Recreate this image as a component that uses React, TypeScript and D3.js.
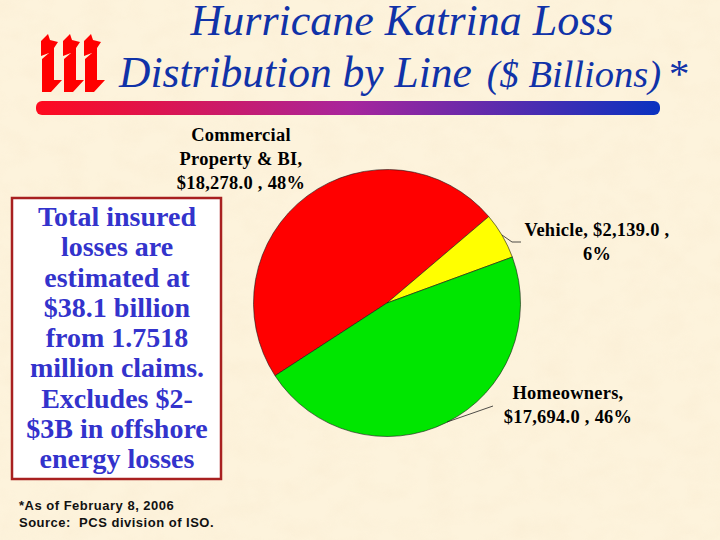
import React from "react";
import * as d3 from "d3";

const categories = ["Commercial Property & BI", "Vehicle", "Homeowners"];
const lossValues = [18278.0, 2139.0, 17694.0];
const shares = [48, 6, 46];
const sliceColors = ["#ff0000", "#ffff00", "#00e600"];
const noteLines = ["Total insured", "losses are", "estimated at", "$38.1 billion", "from 1.7518", "million claims.", "Excludes $2-", "$3B in offshore", "energy losses"];
const sourceLines = ["*As of February 8, 2006", "Source:  PCS division of ISO."];

const W = 720, H = 540;
const cx = 387, cy = 303, radius = 133.5;
const startDeg = 237;
const serif = "'Liberation Serif', serif";
const sans = "'Liberation Sans', sans-serif";
const money = (v: number) => "$" + d3.format(",.1f")(v);

const pie = d3.pie<number>().sort(null)
  .startAngle((startDeg * Math.PI) / 180)
  .endAngle(((startDeg + 360) * Math.PI) / 180);
const arc = d3.arc<d3.PieArcDatum<number>>().innerRadius(0).outerRadius(radius);
const arcs = pie(lossValues);

const labelLines = [
  { x: 241, ys: [141, 165, 189], lines: ["Commercial", "Property & BI,", `${money(lossValues[0])} , ${shares[0]}%`] },
  { x: 597, ys: [236, 260], lines: [`${categories[1]}, ${money(lossValues[1])} ,`, `${shares[1]}%`] },
  { x: 568, ys: [399, 423], lines: [`${categories[2]},`, `${money(lossValues[2])} , ${shares[2]}%`] },
];

const logoLetter = "M0 7 L7 0 L9 6 L17 8 L13 14 L13 46 L21 46 L10 58 L1 58 L1 25 L8 19 L0 22 Z";
const noteY = d3.scalePoint<string>().domain(noteLines.map((_, i) => String(i))).range([226, 468]);

export default function App() {
  return (
    <svg width={W} height={H} viewBox={`0 0 ${W} ${H}`} style={{ position: "absolute", left: 0, top: 0, display: "block" }}>
      <defs>
        <linearGradient id="bar" x1="0" x2="1" y1="0" y2="0">
          <stop offset="0" stopColor="#ff0a1e" />
          <stop offset="0.5" stopColor="#a8259c" />
          <stop offset="1" stopColor="#0a32c0" />
        </linearGradient>
        <filter id="paper" x="0" y="0" width="100%" height="100%">
          <feTurbulence type="fractalNoise" baseFrequency="0.035 0.05" numOctaves={3} seed={4} />
          <feColorMatrix type="matrix" values="0 0 0 0 0.93  0 0 0 0 0.80  0 0 0 0 0.60  0.9 0 0 0 -0.33" />
        </filter>
      </defs>
      <rect width={W} height={H} fill="#fdf3dc" />
      <rect width={W} height={H} filter="url(#paper)" opacity={0.55} />

      <g fill="#ff0000">
        {[41, 63, 84].map((x) => (
          <path key={x} d={logoLetter} transform={`translate(${x},34)`} />
        ))}
      </g>

      <g fill="#1032a8" fontFamily={serif} fontStyle="italic">
        <text x={402} y={35} fontSize={44} textAnchor="middle">Hurricane Katrina Loss</text>
        <text x={119} y={87} fontSize={43.5}>
          Distribution by Line <tspan fontSize={38.5} dx={4}>($ Billions)</tspan><tspan fontSize={41} dx={6}>*</tspan>
        </text>
      </g>
      <rect x={36} y={101} width={624} height={14} rx={6} fill="url(#bar)" />

      <g stroke="#1a1a1a" strokeWidth={0.6}>
        {arcs.map((d, i) => (
          <path key={categories[i]} d={arc(d) ?? ""} transform={`translate(${cx},${cy})`} fill={sliceColors[i]} />
        ))}
      </g>
      <g fill="none" stroke="#222" strokeWidth={0.8}>
        <polyline points="502,235 512,242 521,242" />
        <polyline points="447,422 493,406" />
      </g>
      <g fontFamily={serif} fontWeight="bold" fontSize={18.4} fill="#000" textAnchor="middle" letterSpacing={0.3}>
        {labelLines.map((l) =>
          l.lines.map((t, i) => (
            <text key={t} x={l.x} y={l.ys[i]}>{t}</text>
          ))
        )}
      </g>

      <rect x={12} y={198} width={209} height={281} fill="#ffffff" stroke="#a82020" strokeWidth={2.5} />
      <g fontFamily={serif} fontWeight="bold" fontSize={28} fill="#3333cc" textAnchor="middle">
        {noteLines.map((t, i) => (
          <text key={t} x={117} y={noteY(String(i))}>{t}</text>
        ))}
      </g>
      <g fontFamily={sans} fontWeight="bold" fontSize={13} fill="#111" letterSpacing={0.5}>
        {sourceLines.map((t, i) => (
          <text key={t} x={19} y={509.5 + i * 17} xmlSpace="preserve">{t}</text>
        ))}
      </g>
    </svg>
  );
}
